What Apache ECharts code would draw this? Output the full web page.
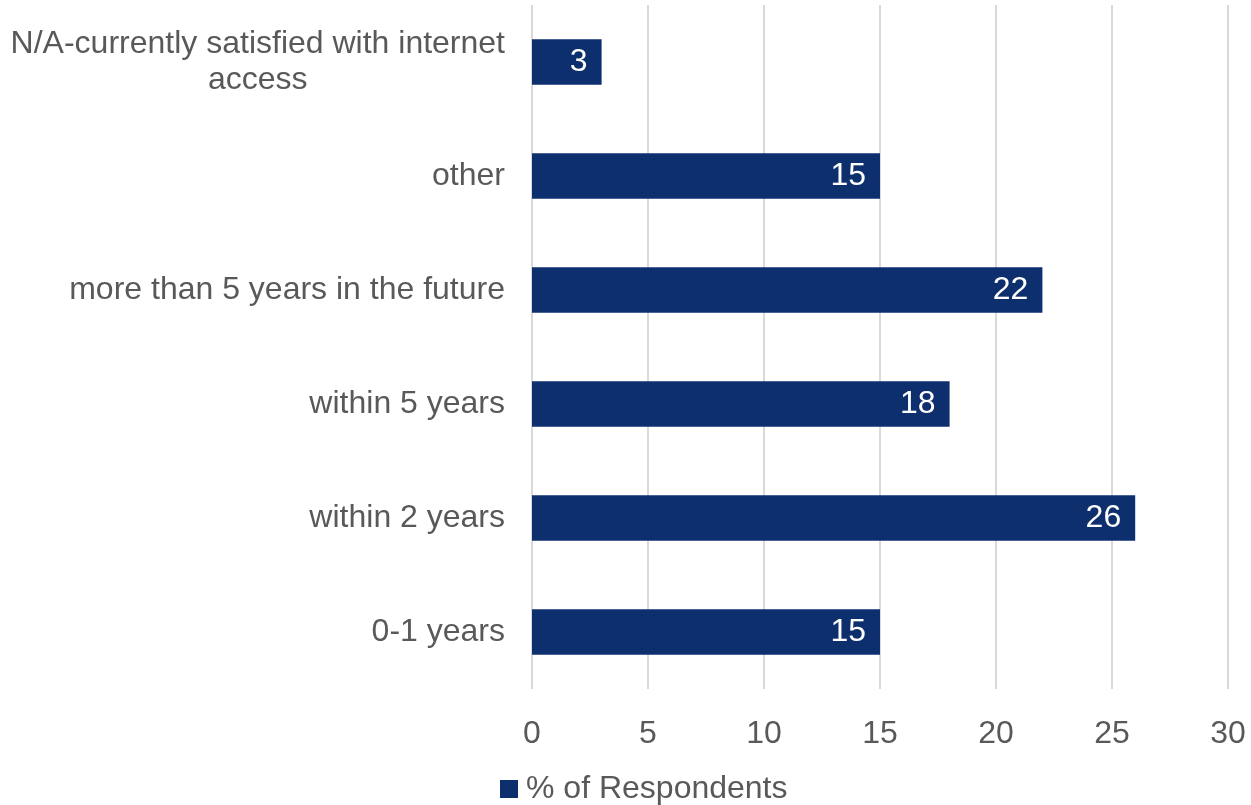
<!DOCTYPE html>
<html>
<head>
<meta charset="utf-8">
<script src="https://cdn.jsdelivr.net/npm/echarts@6/dist/echarts.min.js"></script>
<style>
  html, body { margin: 0; padding: 0; background: #fff; }
  #chart { width: 1251px; height: 805px; }
</style>
</head>
<body>
<div id="chart"></div>
<script>
// Survey answers, listed bottom to top as they appear on the category axis
const categories = [
  '0-1 years',
  'within 2 years',
  'within 5 years',
  'more than 5 years in the future',
  'other',
  'N/A-currently satisfied with internet\naccess'
];
const respondents = [15, 26, 18, 22, 15, 3];
const seriesName = '% of Respondents';

const textColor = '#595959';
const barColor = '#0E2F6E';
const fontFamily = '"Liberation Sans", Arial, sans-serif';
const fontSize = 32;

const chart = echarts.init(document.getElementById('chart'));
chart.setOption({
  animation: false,
  textStyle: { fontFamily: fontFamily },
  grid: { left: 532, right: 23, top: 5, bottom: 116, containLabel: false },
  legend: {
    data: [seriesName],
    left: 495,
    top: 768,
    icon: 'rect',
    itemWidth: 18,
    itemHeight: 18,
    itemGap: 8,
    textStyle: { color: textColor, fontSize: fontSize, fontFamily: fontFamily, padding: [0, 0, 0, 3] }
  },
  xAxis: {
    type: 'value',
    min: 0,
    max: 30,
    interval: 5,
    axisLine: { show: false },
    axisTick: { show: false },
    splitLine: { lineStyle: { color: '#D9D9D9', width: 2 } },
    axisLabel: { color: textColor, fontSize: fontSize, margin: 29, fontFamily: fontFamily }
  },
  yAxis: {
    type: 'category',
    data: categories,
    axisLine: { show: false },
    axisTick: { show: false },
    axisLabel: {
      color: textColor,
      fontSize: fontSize,
      margin: 27,
      fontFamily: fontFamily,
      align: 'right',
      formatter: function (value) {
        return value.split('\n').map(function (line) { return '{c|' + line + '}'; }).join('\n');
      },
      rich: {
        c: { align: 'center', color: textColor, fontSize: fontSize, fontFamily: fontFamily, lineHeight: 36 }
      }
    }
  },
  series: [{
    name: seriesName,
    type: 'bar',
    data: respondents,
    barCategoryGap: '60%',
    itemStyle: { color: barColor },
    label: {
      show: true,
      position: 'insideRight',
      distance: 14,
      color: '#FFFFFF',
      fontSize: fontSize,
      fontFamily: fontFamily
    }
  }]
});
</script>
</body>
</html>
